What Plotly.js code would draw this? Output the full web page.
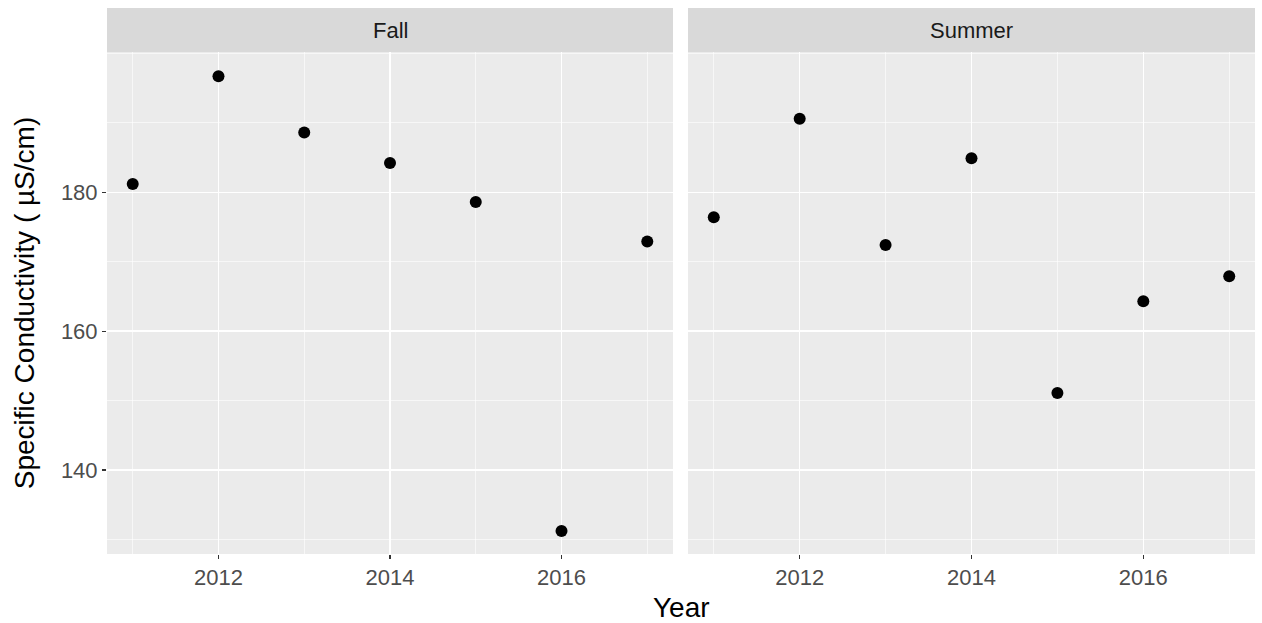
<!DOCTYPE html>
<html>
<head>
<meta charset="utf-8">
<script src="https://cdn.plot.ly/plotly-3.0.1.min.js"></script>
<style>html,body{margin:0;padding:0;background:#fff;}#chart{width:1262px;height:623px;}</style>
</head>
<body>
<div id="chart"></div>
<script>
// Data
var years = [2011, 2012, 2013, 2014, 2015, 2016, 2017];
var fallValues = [181.2, 196.7, 188.6, 184.2, 178.6, 131.2, 172.9];
var summerValues = [176.4, 190.6, 172.4, 184.9, 151.1, 164.3, 167.9];
var panelNames = ["Fall", "Summer"];
var xTickVals = [2012, 2014, 2016];
var xTickText = ["2012", "2014", "2016"];
var yTickVals = [140, 160, 180];
var yTickText = ["140", "160", "180"];

var FONT = "Liberation Sans, Arial, sans-serif";
var marker = {color: "#000000", size: 12};

var traces = [
  {x: years, y: fallValues, type: "scatter", mode: "markers", marker: marker, xaxis: "x", yaxis: "y", name: panelNames[0], hoverinfo: "x+y"},
  {x: years, y: summerValues, type: "scatter", mode: "markers", marker: marker, xaxis: "x2", yaxis: "y2", name: panelNames[1], hoverinfo: "x+y"}
];

var xCommon = {
  range: [2010.7, 2017.3],
  tickmode: "array", tickvals: xTickVals, ticktext: xTickText,
  ticks: "outside", ticklen: 4, tickwidth: 1.2, tickcolor: "#333333",
  showgrid: true, gridcolor: "#FFFFFF", gridwidth: 1.3,
  minor: {tick0: 2011, dtick: 1, showgrid: true, gridcolor: "#FFFFFF", gridwidth: 0.6, ticks: ""},
  zeroline: false, showline: false,
  tickfont: {family: FONT, size: 22, color: "#4D4D4D"},
  fixedrange: true
};
var yCommon = {
  range: [127.9, 200.2],
  tickmode: "array", tickvals: yTickVals, ticktext: yTickText,
  ticks: "outside", ticklen: 4, tickwidth: 1.2, tickcolor: "#333333",
  showgrid: true, gridcolor: "#FFFFFF", gridwidth: 1.3,
  minor: {tick0: 130, dtick: 10, showgrid: true, gridcolor: "#FFFFFF", gridwidth: 0.6, ticks: ""},
  zeroline: false, showline: false,
  tickfont: {family: FONT, size: 22, color: "#4D4D4D"},
  fixedrange: true
};

var d1 = [0, 566/1148];
var d2 = [581/1148, 1];
var stripTop = 1 + 44/502;

var layout = {
  width: 1262, height: 623,
  margin: {l: 107, r: 7, t: 52, b: 69},
  paper_bgcolor: "#FFFFFF",
  plot_bgcolor: "#EBEBEB",
  showlegend: false,
  font: {family: FONT},
  xaxis: Object.assign({}, xCommon, {domain: d1, anchor: "y"}),
  xaxis2: Object.assign({}, xCommon, {domain: d2, anchor: "y2"}),
  yaxis: Object.assign({}, yCommon, {domain: [0, 1], anchor: "x",
    title: {text: "Specific Conductivity ( \u00B5S/cm)", font: {family: FONT, size: 28, color: "#000000"}, standoff: 18}}),
  yaxis2: Object.assign({}, yCommon, {domain: [0, 1], anchor: "x2", matches: "y", showticklabels: false, ticks: ""}),
  shapes: [
    {type: "rect", xref: "paper", yref: "paper", x0: d1[0], x1: d1[1], y0: 1, y1: stripTop, fillcolor: "#D9D9D9", line: {width: 0}, layer: "below"},
    {type: "rect", xref: "paper", yref: "paper", x0: d2[0], x1: d2[1], y0: 1, y1: stripTop, fillcolor: "#D9D9D9", line: {width: 0}, layer: "below"}
  ],
  annotations: [
    {text: panelNames[0], xref: "paper", yref: "paper", x: (d1[0]+d1[1])/2, y: (1+stripTop)/2, xanchor: "center", yanchor: "middle", showarrow: false, font: {family: FONT, size: 22, color: "#1A1A1A"}},
    {text: panelNames[1], xref: "paper", yref: "paper", x: (d2[0]+d2[1])/2, y: (1+stripTop)/2, xanchor: "center", yanchor: "middle", showarrow: false, font: {family: FONT, size: 22, color: "#1A1A1A"}},
    {text: "Year", xref: "paper", yref: "paper", x: 0.5, y: -53/502, xanchor: "center", yanchor: "middle", showarrow: false, font: {family: FONT, size: 28, color: "#000000"}}
  ]
};

Plotly.newPlot("chart", traces, layout, {displayModeBar: false, staticPlot: true});
</script>
</body>
</html>
